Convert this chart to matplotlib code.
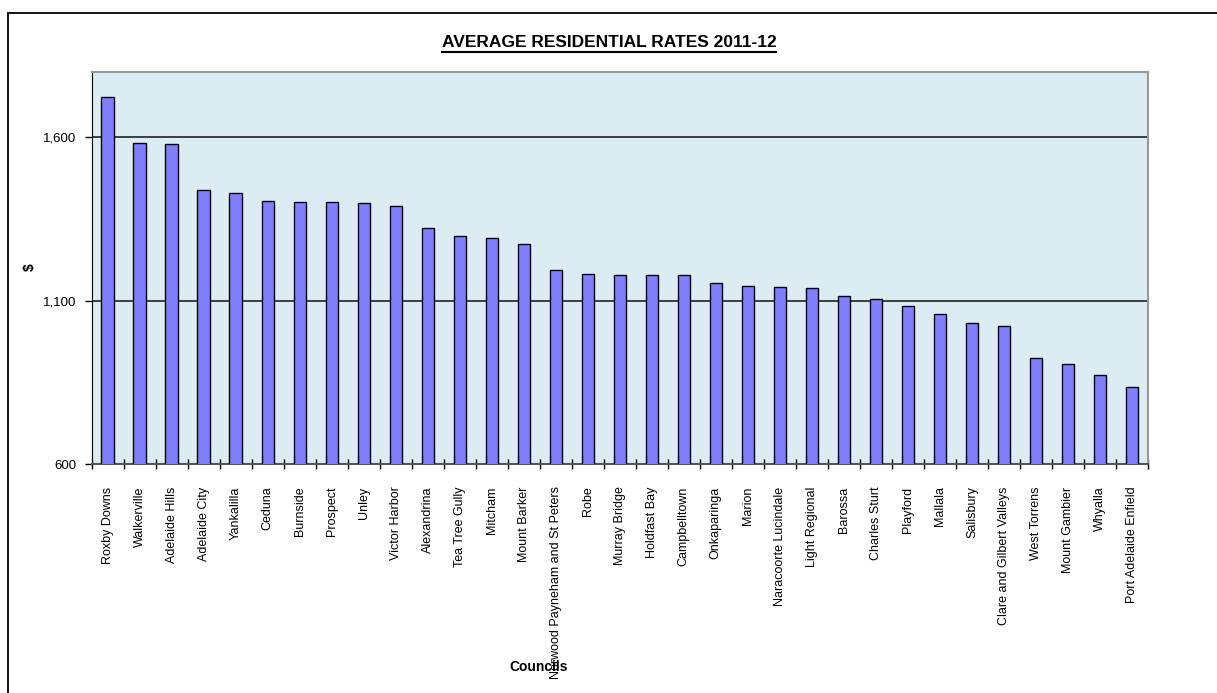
import matplotlib
matplotlib.use("Agg")
import matplotlib.pyplot as plt
from matplotlib.lines import Line2D
from matplotlib.patches import Rectangle
import numpy as np

councils = ["Roxby Downs", "Walkerville", "Adelaide Hills", "Adelaide City", "Yankalilla",
            "Ceduna", "Burnside", "Prospect", "Unley", "Victor Harbor", "Alexandrina",
            "Tea Tree Gully", "Mitcham", "Mount Barker", "Norwood Payneham and St Peters",
            "Robe", "Murray Bridge", "Holdfast Bay", "Campbelltown", "Onkaparinga", "Marion",
            "Naracoorte Lucindale", "Light Regional", "Barossa", "Charles Sturt", "Playford",
            "Mallala", "Salisbury", "Clare and Gilbert Valleys", "West Torrens",
            "Mount Gambier", "Whyalla", "Port Adelaide Enfield"]
rates = [1722, 1581, 1577, 1438, 1430, 1405, 1401, 1401, 1397, 1390, 1322,
         1298, 1290, 1274, 1193, 1182, 1178, 1178, 1178, 1154, 1146,
         1141, 1137, 1113, 1104, 1084, 1059, 1032, 1022, 924,
         906, 874, 837]
yticks = [600, 1100, 1600]
ytick_labels = ["600", "1,100", "1,600"]

fams = ["Liberation Sans Narrow", "Liberation Sans", "DejaVu Sans"]
plt.rcParams["font.family"] = fams

W, H = 1217, 693
fig = plt.figure(figsize=(W / 100, H / 100), dpi=100)
fig.patch.set_facecolor("white")

# outer chart border
fig.patches.append(Rectangle((7.5 / W, -0.1), 1.2, 1 - 13 / H + 0.1, transform=fig.transFigure,
                             fill=False, edgecolor="black", linewidth=1.3, zorder=0))

ax = fig.add_axes([91.5 / W, 1 - 464.2 / H, (1148 - 91.5) / W, (464.2 - 71.5) / H])
ax.set_facecolor("#DBEDF3")

x = np.arange(len(councils))
ax.bar(x, rates, width=0.38, color="#8080FF", edgecolor="black", linewidth=1.0, zorder=3)

ax.set_xlim(-0.5, len(councils) - 0.5)
ax.set_ylim(600, 1800)
ax.set_yticks(yticks)
ax.set_yticklabels(ytick_labels, fontsize=9.5)
ax.tick_params(axis="y", direction="out", length=5, width=1, pad=6)

ax.set_xticks(x)
ax.set_xticklabels(councils, rotation=90, fontsize=9, va="top", ha="center")
ax.tick_params(axis="x", which="major", length=0, pad=16)
ax.set_xticks(np.arange(len(councils) + 1) - 0.5, minor=True)
ax.tick_params(axis="x", which="minor", direction="inout", length=7, width=1)

for yv in yticks[1:]:
    ax.axhline(yv, color="#222222", linewidth=1.2, zorder=1)

ax.spines["left"].set_color("black")
ax.spines["bottom"].set_color("#555555")
ax.spines["bottom"].set_linewidth(1.5)
ax.spines["top"].set_color("#999999")
ax.spines["top"].set_linewidth(1.5)
ax.spines["right"].set_color("#999999")
ax.spines["right"].set_linewidth(1.5)

fig.text(30 / W, 1 - 267 / H, "$", rotation=90, fontsize=10, fontweight="bold",
         ha="center", va="center")
fig.text(539 / W, 1 - 667 / H, "Councils", fontsize=10, fontweight="bold",
         ha="center", va="center")

title = fig.text(609 / W, 1 - 42.5 / H, "AVERAGE RESIDENTIAL RATES 2011-12", fontsize=12.5,
                 fontweight="bold", ha="center", va="center")
fig.canvas.draw()
bb = title.get_window_extent(fig.canvas.get_renderer())
uy = bb.y0 - 2
fig.add_artist(Line2D([bb.x0 / W, bb.x1 / W], [uy / H, uy / H], transform=fig.transFigure,
                      color="black", linewidth=1.5))

fig.savefig("out.png", dpi=100)
